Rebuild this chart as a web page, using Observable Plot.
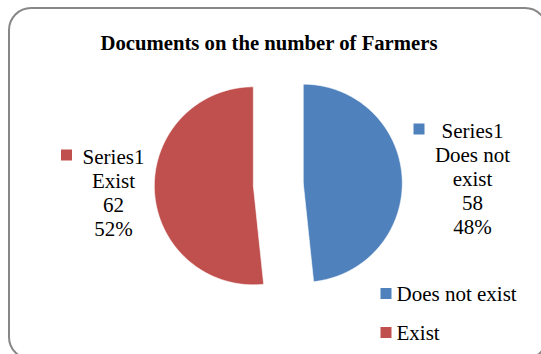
<!DOCTYPE html>
<html><head><meta charset="utf-8">
<script src="https://cdn.jsdelivr.net/npm/d3@7"></script>
<script src="https://cdn.jsdelivr.net/npm/@observablehq/plot@0.6"></script>
<style>html,body{margin:0;padding:0;background:#fff;overflow:hidden}
svg text{font-family:"Liberation Serif","Times New Roman",serif !important}</style>
</head><body><div id="chart"></div>
<script>
const title = "Documents on the number of Farmers";
const seriesName = "Series1";
const categories = ["Does not exist", "Exist"];
const values = [58, 62];
const labelNames = [["Does not", "exist"], ["Exist"]];
const colors = ["#4F81BD", "#C0504D"];

const W = 541, H = 354;
const cx = 277.8, cy = 184, R = 99, explode = 25;
const total = d3.sum(values);
const arcs = d3.pie().sort(null).value(d => d)(values);

const slicePts = [];
arcs.forEach((a, i) => {
  const mid = (a.startAngle + a.endAngle) / 2;
  const ox = cx + explode * Math.sin(mid), oy = cy - explode * Math.cos(mid);
  slicePts.push({cat: categories[i], x: ox, y: oy});
  const n = Math.ceil((a.endAngle - a.startAngle) / (Math.PI / 360));
  for (let k = 0; k <= n; k++) {
    const t = a.startAngle + (a.endAngle - a.startAngle) * k / n;
    slicePts.push({cat: categories[i], x: ox + R * Math.sin(t), y: oy - R * Math.cos(t)});
  }
  slicePts.push({cat: categories[i], x: ox, y: oy});
});

const FONT = "'Liberation Serif', 'Times New Roman', serif";

// data label layout (first baseline, centre x, marker position)
const labelLayout = [
  {x: 472, y0: 137, mx: 418.5, my: 128.5},
  {x: 113, y0: 163, mx: 66, my: 154.5}
];
const labelFont = 21, labelLH = 24;
const labelLines = [];
const labelMarkers = [];
categories.forEach((c, i) => {
  const lines = [seriesName, ...labelNames[i], String(values[i]), Math.round(values[i] / total * 100) + "%"];
  const L = labelLayout[i];
  lines.forEach((t, k) => labelLines.push({cat: c, text: t, x: L.x, y: L.y0 + k * labelLH - 0.32 * labelFont}));
  labelMarkers.push({cat: c, x: L.mx, y: L.my});
});

const legendRows = categories.map((c, i) => ({cat: c, x: 385.5, y: 293 + i * 39}));
const legendFont = 21;
const titleFont = 20.7;

const chart = Plot.plot({
  width: W, height: H, margin: 0,
  x: {domain: [0, W], range: [0, W], axis: null},
  y: {domain: [0, H], range: [0, H], axis: null},
  color: {domain: categories, range: colors},
  style: {fontFamily: FONT, background: "#fff", color: "#000"},
  marks: [
    Plot.rect([0], {x1: 9, x2: 547, y1: 8, y2: 359, rx: 22, fill: "none", stroke: "#878787", strokeWidth: 2}),
    Plot.line(slicePts, {x: "x", y: "y", z: "cat", fill: "cat", stroke: "#fff", strokeWidth: 0.6, curve: "linear"}),
    Plot.text([title], {x: 268.5, y: 49 - 0.32 * titleFont, text: d => d, fontSize: titleFont, fontWeight: "bold", fill: "#000", fontFamily: FONT}),
    Plot.text(labelLines, {x: "x", y: "y", text: "text", fontSize: labelFont, fill: "#000", textAnchor: "middle", fontFamily: FONT}),
    Plot.dot(labelMarkers, {x: "x", y: "y", symbol: "square", r: 11 / Math.sqrt(Math.PI), fill: "cat", stroke: null}),
    Plot.dot(legendRows, {x: "x", y: "y", symbol: "square", r: 11 / Math.sqrt(Math.PI), fill: "cat", stroke: null}),
    Plot.text(legendRows, {x: d => d.x + 10.5, y: d => d.y + 7 - 0.32 * legendFont, text: "cat", fontSize: legendFont, textAnchor: "start", fill: "#000", fontFamily: FONT})
  ]
});
document.getElementById("chart").appendChild(chart);
</script>
</body></html>
